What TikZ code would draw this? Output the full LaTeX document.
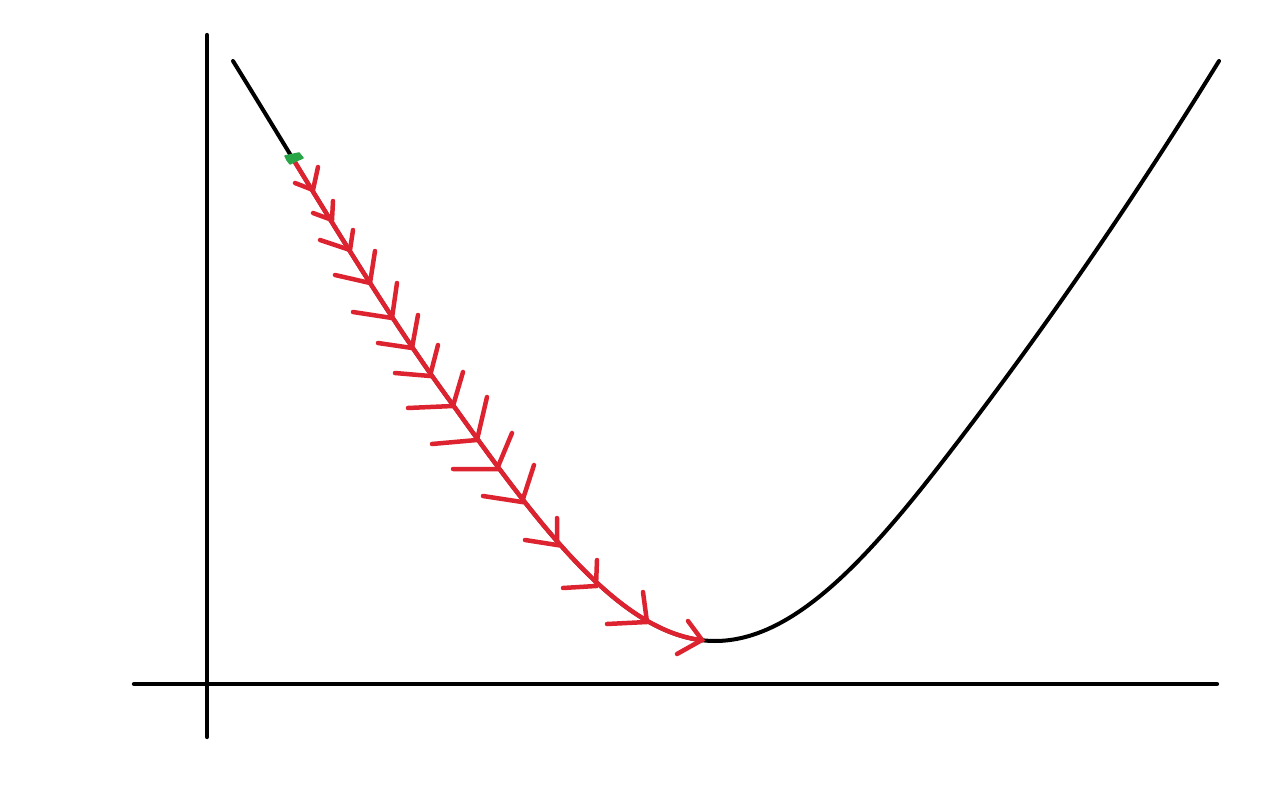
\documentclass[tikz,border=0pt]{standalone}
\definecolor{gdred}{RGB}{222,35,48}
\definecolor{gdgreen}{RGB}{40,165,70}
\tikzset{
  axisline/.style={line width=4.3pt, black, line cap=round},
  costcurve/.style={line width=4pt, black, line cap=round},
  descent/.style={line width=4.5pt, gdred, line cap=round, line join=round},
  chevron/.style={line width=4.5pt, gdred, line cap=round, line join=miter},
  startmark/.style={fill=gdgreen, draw=gdgreen, line width=1.5pt, line join=round}
}
\begin{document}
\begin{tikzpicture}[x=1pt, y=-1pt]
\useasboundingbox (0,0) rectangle (1277,794);
% axes
\coordinate (ytop) at (207,35);
\coordinate (ybot) at (207,737);
\coordinate (xl) at (134,684);
\coordinate (xr) at (1217,684);
\draw[axisline] (ybot) -- (ytop);
\draw[axisline] (xl) -- (xr);
% cost curve
\coordinate (c0) at (233,61);
\coordinate (c1) at (453,405);
\coordinate (cmin) at (715,641);
\coordinate (c2) at (950,452);
\coordinate (c3) at (1219,61);
\draw[costcurve] (c0) .. controls (306,179) and (380,306) .. (c1)
  .. controls (543,531) and (625,641) .. (cmin)
  .. controls (795,641) and (870,556) .. (c2)
  .. controls (1040,335) and (1129,207) .. (c3);
% descent path
\coordinate (start) at (291.2,156);
\coordinate (stop) at (701.8,640.2);
\draw[descent] (start) .. controls (345.1,244.3) and (399.3,332.2) .. (c1)
  .. controls (538.5,524.7) and (616.8,629.9) .. (stop);
% chevrons (up arm, tip, left arm)
\foreach \ux/\uy/\tx/\ty/\lx/\ly in {
 318/167/313/190/295/183,
 333/201/332/220/313/213,
 353/230/350/250/320/240,
 375/251/370/283/335/275,
 397/283/392/318/353/312,
 418/315/412/348/378/343,
 438/345/430/376/395/373,
 463/372/453/406/408/408,
 487/397/477/440/432/444,
 512/433/497/469/453/469,
 534/465/522/502/483/496,
 557/518/557/545/525/540,
 597/560/596/586/563/588,
 643/592/647/622/607/624,
 688/621/702/640/677/654}
 \draw[chevron] (\ux,\uy) -- (\tx,\ty) -- (\lx,\ly);
% start mark
\draw[startmark] (285,156) -- (299,153) -- (303,158) -- (296,161) -- (290,164) -- (287,160) -- cycle;
\end{tikzpicture}
\end{document}
